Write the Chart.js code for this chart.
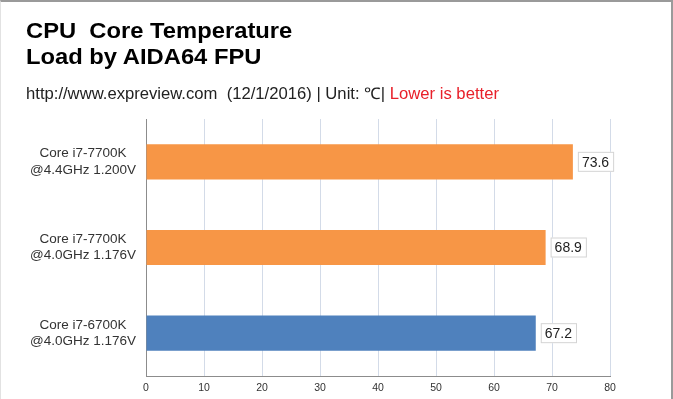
<!DOCTYPE html>
<html lang="en">

<head>
  <meta charset="utf-8">
  <title>CPU Core Temperature</title>
  <script src="https://cdn.jsdelivr.net/npm/chart.js@4.4.0/dist/chart.umd.min.js"></script>
  <style>
    html, body { margin: 0; padding: 0; background: #fff; }
    #frame {
      position: relative;
      width: 673px;
      height: 399px;
      box-sizing: border-box;
      border-top: 2px solid #9a9a9a;
      border-right: 2px solid #9a9a9a;
      border-left: 1px solid #e2e2e2;
      font-family: Arial, "Liberation Sans", sans-serif;
      overflow: hidden;
    }
    .title {
      position: absolute;
      left: 25px;
      font-weight: bold;
      font-size: 22px;
      color: #000;
      white-space: pre;
      transform: scaleX(1.08);
      transform-origin: left top;
    }
    #sub {
      position: absolute;
      left: 25px;
      top: 80px;
      font-size: 16px;
      color: #222;
      white-space: pre;
      transform: scaleX(1.04);
      transform-origin: left top;
    }
    #sub span { color: #e8202a; }
    #chartBox { position: absolute; left: -1px; top: -2px; width: 673px; height: 399px; }
  </style>
</head>

<body>
  <div id="frame">
    <div id="chartBox"><canvas id="myChart" width="673" height="399"></canvas></div>
    <div class="title" style="top:16px">CPU  Core Temperature</div>
    <div class="title" style="top:42px">Load by AIDA64 FPU</div>
    <div id="sub">http://www.expreview.com  (12/1/2016) | Unit: ℃| <span>Lower is better</span></div>
  </div>

  <script>
    // chart data
    var cpuLabels = [
      ['Core i7-7700K', '@4.4GHz 1.200V'],
      ['Core i7-7700K', '@4.0GHz 1.176V'],
      ['Core i7-6700K', '@4.0GHz 1.176V']
    ];
    var temps = [73.6, 68.9, 67.2];
    var barColors = ['#f79646', '#f79646', '#4f81bd'];
    var axisTicks = [0, 10, 20, 30, 40, 50, 60, 70, 80];

    // little boxed value labels at the end of each bar
    var valueBoxes = {
      id: 'valueBoxes',
      afterDatasetsDraw: function (chart) {
        var ctx = chart.ctx;
        var meta = chart.getDatasetMeta(0);
        ctx.save();
        ctx.font = '14px Arial, "Liberation Sans", sans-serif';
        ctx.textBaseline = 'middle';
        meta.data.forEach(function (bar, i) {
          var txt = temps[i].toFixed(1);
          var w = ctx.measureText(txt).width + 8;
          var x = bar.x + 5;
          var y = bar.y;
          ctx.fillStyle = '#fff';
          ctx.fillRect(x, y - 10, w, 20);
          ctx.strokeStyle = '#d4d4d4';
          ctx.lineWidth = 1;
          ctx.strokeRect(x + 0.5, y - 9.5, w, 19);
          ctx.fillStyle = '#222';
          ctx.fillText(txt, x + 4, y + 1);
        });
        ctx.restore();
      }
    };

    var ctx = document.getElementById('myChart');
    var myChart = new Chart(ctx, {
      type: 'bar',
      data: {
        labels: cpuLabels,
        datasets: [{
          data: temps,
          backgroundColor: barColors,
          categoryPercentage: 1,
          barPercentage: 0.41
        }]
      },
      options: {
        indexAxis: 'y',
        responsive: false,
        animation: false,
        layout: { padding: { top: 119, right: 63, bottom: 0, left: 0 } },
        plugins: {
          legend: { display: false },
          tooltip: { enabled: false }
        },
        scales: {
          x: {
            min: 0,
            max: 80,
            afterBuildTicks: function (scale) {
              scale.ticks = axisTicks.map(function (v) { return { value: v }; });
            },
            afterFit: function (scale) { scale.height = 23; },
            grid: { color: '#d3dbe8', drawTicks: false },
            border: { color: '#8c8c8c', width: 1 },
            ticks: {
              padding: 6,
              color: '#333',
              font: { family: 'Arial, "Liberation Sans", sans-serif', size: 10.5 }
            }
          },
          y: {
            afterFit: function (scale) {
              scale.width = 146;
              // the two-line labels should not push the plot area up from the bottom
              scale.paddingTop = 0;
              scale.paddingBottom = 0;
            },
            grid: { display: false, drawTicks: false },
            border: { color: '#8c8c8c', width: 1 },
            ticks: {
              crossAlign: 'center',
              padding: 10,
              color: '#333',
              font: { family: 'Arial, "Liberation Sans", sans-serif', size: 13.5, lineHeight: 1.22 }
            }
          }
        }
      },
      plugins: [valueBoxes]
    });
  </script>
</body>

</html>
